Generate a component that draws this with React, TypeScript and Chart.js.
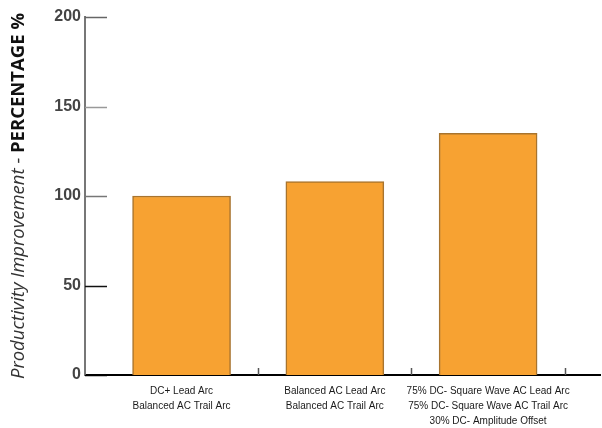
import React, { useEffect, useRef } from "react";
import { Chart, registerables } from "chart.js";

Chart.register(...registerables);

const categories: string[][] = [
  ["DC+ Lead Arc", "Balanced AC Trail Arc"],
  ["Balanced AC Lead Arc", "Balanced AC Trail Arc"],
  ["75% DC- Square Wave AC Lead Arc", "75% DC- Square Wave AC Trail Arc", "30% DC- Amplitude Offset"],
];
const positions = [0, 1, 2];
const improvement = [100, 108, 135];
const yTicks = [0, 50, 100, 150, 200];
const yTickColors = ["#000", "#111", "#777", "#999", "#666"];
const titleItalic = "Productivity Improvement - ";
const titleBold = "PERCENTAGE %";

const decorPlugin = {
  id: "decor",
  beforeDraw(chart: any) {
    const ctx = chart.ctx;
    ctx.save();
    const cy = 196;
    const cx = 19;
    ctx.translate(cx, cy);
    ctx.rotate(-Math.PI / 2);
    ctx.textBaseline = "middle";
    const f1 = "italic 400 18.5px 'Open Sans'";
    const f2 = "bold 18.5px 'Open Sans'";
    ctx.font = f1;
    const w1 = ctx.measureText(titleItalic).width;
    ctx.font = f2;
    const w2 = ctx.measureText(titleBold).width;
    const start = -(w1 + w2) / 2;
    ctx.font = f1;
    ctx.fillStyle = "#333";
    ctx.textAlign = "left";
    ctx.fillText(titleItalic, start, 0);
    ctx.font = f2;
    ctx.fillStyle = "#111";
    ctx.fillText(titleBold, start + w1, 0);
    ctx.restore();
  },
  afterDraw(chart: any) {
    const ctx = chart.ctx;
    const area = chart.chartArea;
    const y = chart.scales.y;
    const x = chart.scales.x;
    ctx.save();
    yTicks.forEach((v, i) => {
      const py = Math.round(y.getPixelForValue(v)) + 0.5;
      ctx.strokeStyle = yTickColors[i];
      ctx.lineWidth = 1.5;
      ctx.beginPath();
      ctx.moveTo(area.left, py);
      ctx.lineTo(area.left + 22, py);
      ctx.stroke();
    });
    positions.forEach((p) => {
      const px = Math.round(x.getPixelForValue(p + 0.5)) + 0.5;
      ctx.strokeStyle = "#555";
      ctx.lineWidth = 1.5;
      ctx.beginPath();
      ctx.moveTo(px, area.bottom);
      ctx.lineTo(px, area.bottom - 7);
      ctx.stroke();
    });
    ctx.restore();
  },
};

export default function App() {
  const ref = useRef<HTMLCanvasElement | null>(null);
  useEffect(() => {
    if (!ref.current) return;
    const chart = new Chart(ref.current, {
      type: "bar",
      data: {
        datasets: [
          {
            data: positions.map((p, i) => ({ x: p, y: improvement[i] })),
            backgroundColor: "#F7A232",
            borderColor: "#A8742E",
            borderWidth: 1.5,
            barThickness: 98,
          },
        ],
      },
      options: {
        animation: false,
        responsive: true,
        maintainAspectRatio: false,
        layout: { padding: { left: 40, top: 17, right: 2, bottom: 0 } },
        plugins: { legend: { display: false }, tooltip: { enabled: false } },
        scales: {
          x: {
            type: "linear",
            offset: false,
            min: -0.63,
            max: 2.73,
            afterBuildTicks: (scale: any) => {
              scale.ticks = positions.map((p) => ({ value: p }));
            },
            afterFit: (scale: any) => {
              scale.height = 53;
            },
            grid: { display: false, drawTicks: false, tickLength: 0 },
            border: { display: true, color: "#000", width: 2 },
            ticks: {
              autoSkip: false,
              maxRotation: 0,
              padding: 9,
              color: "#1a1a1a",
              font: { family: "'Liberation Sans Narrow', 'Liberation Sans'", size: 10, lineHeight: 1.5 },
              callback: (v: any) => categories[Math.round(Number(v))] ?? "",
            },
          },
          y: {
            min: 0,
            max: 200,
            afterBuildTicks: (scale: any) => {
              scale.ticks = yTicks.map((v) => ({ value: v }));
            },
            afterFit: (scale: any) => {
              scale.width = 45;
            },
            grid: { display: false, drawTicks: false, tickLength: 0 },
            border: { display: true, color: "#777", width: 2 },
            ticks: {
              padding: 4,
              color: "#444",
              font: { family: "'Liberation Sans Narrow', 'Liberation Sans'", size: 16, weight: "bold" },
            },
          },
        },
      },
      plugins: [decorPlugin],
    });
    return () => chart.destroy();
  }, []);
  return (
    <div style={{ position: "fixed", left: 0, top: 0, width: 602, height: 428, background: "#fff" }}>
      <canvas ref={ref} />
    </div>
  );
}
